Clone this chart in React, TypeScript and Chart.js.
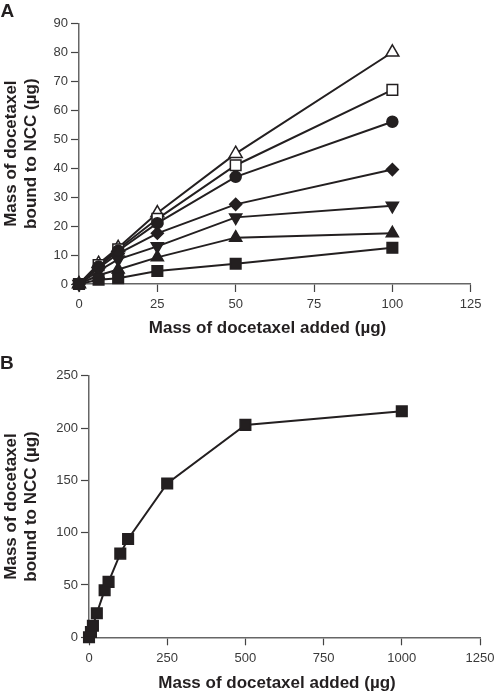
import React, { useEffect, useRef } from "react";
import { Chart, registerables } from "chart.js";

Chart.register(...registerables);

// ---------- Data ----------
const A_X = [0, 6.25, 12.5, 25, 50, 100];
const A_OPEN_TRIANGLE = [0, 7, 12.5, 24.5, 45, 80];
const A_OPEN_SQUARE = [0, 6.5, 12, 22.5, 41, 67];
const A_CIRCLE = [0, 6, 11.5, 21, 37, 56];
const A_DIAMOND = [0, 5.5, 10.5, 17.5, 27.5, 39.5];
const A_DOWN_TRIANGLE = [0, 4.5, 8.5, 13, 23, 27];
const A_UP_TRIANGLE = [0, 3, 5, 9.2, 16, 17.5];
const A_SQUARE = [0, 1.5, 2, 4.5, 7, 12.5];

const B_X = [0, 6.25, 12.5, 25, 50, 62.5, 100, 125, 250, 500, 1000];
const B_Y = [0, 5, 11, 23, 45, 53, 80, 94, 147, 203, 216];

const Y_TITLE = ["Mass of docetaxel", "bound to NCC (\u00b5g)"];
const X_TITLE = "Mass of docetaxel added (\u00b5g)";

const FONT = '"Liberation Sans", Arial, Helvetica, sans-serif';
const INK = "#231f20";

const panelText = {
  id: "panelText",
  afterDraw(chart: any, _args: any, opts: any) {
    const ctx = chart.ctx;
    ctx.save();
    ctx.fillStyle = INK;
    ctx.textBaseline = "alphabetic";
    ctx.textAlign = "left";
    ctx.font = `bold 19px ${FONT}`;
    ctx.fillText(opts.letter, opts.letterX, opts.letterY);
    ctx.textAlign = "center";
    ctx.font = `bold 17px ${FONT}`;
    ctx.fillText(opts.xTitle, opts.xTitleX, opts.xTitleY);
    ctx.restore();
  },
};

function pts(xs: number[], ys: number[]) {
  return xs.map((x, i) => ({ x, y: ys[i] }));
}

function ds(ys: number[], xs: number[], style: string, fill: string, radius: number, rotation = 0) {
  return {
    data: pts(xs, ys),
    borderColor: INK,
    borderWidth: 2,
    pointStyle: style,
    pointRadius: radius,
    pointRotation: rotation,
    pointBackgroundColor: fill,
    pointBorderColor: INK,
    pointBorderWidth: 1.5,
    tension: 0,
    clip: false as any,
  };
}

function axisCommon(min: number, max: number, step: number) {
  return {
    type: "linear" as const,
    min,
    max,
    ticks: {
      stepSize: step,
      color: "#3a3a3a",
      font: { family: FONT, size: 13 },
      callback: (v: any) => String(v),
    },
    grid: {
      drawOnChartArea: false,
      drawTicks: true,
      tickLength: 8,
      tickColor: "#444",
      tickWidth: 1.2,
    },
    border: { display: true, color: "#666", width: 1.5 },
  };
}

function makeOptions(
  yMin: number, yMax: number, yStep: number, xMin: number, xMax: number, xStep: number,
  yWidth: number, xHeight: number, pad: any, textOpts: any
) {
  const x: any = axisCommon(xMin, xMax, xStep);
  x.ticks.padding = 5;
  x.afterFit = (s: any) => {
    s.height = xHeight;
    s.paddingLeft = 0;
    s.paddingRight = 0;
    s.paddingTop = 0;
    s.paddingBottom = 0;
  };
  const y: any = axisCommon(yMin, yMax, yStep);
  y.ticks.padding = 3;
  y.title = {
    display: true,
    text: Y_TITLE,
    color: INK,
    font: { family: FONT, size: 17, weight: "bold", lineHeight: 20 / 17 },
    padding: { top: 1, bottom: 0 },
  };
  y.afterFit = (s: any) => {
    s.width = yWidth;
    s.paddingLeft = 0;
    s.paddingRight = 0;
    s.paddingTop = 0;
    s.paddingBottom = 0;
  };
  return {
    responsive: false,
    animation: false as const,
    layout: { padding: pad },
    plugins: {
      legend: { display: false },
      tooltip: { enabled: false },
      panelText: textOpts,
    },
    scales: { x, y },
  };
}

function ChartCanvas({ config, width, height, top }: any) {
  const ref = useRef<HTMLCanvasElement | null>(null);
  useEffect(() => {
    if (!ref.current) return;
    const chart = new Chart(ref.current, config);
    return () => chart.destroy();
  }, []);
  return (
    <canvas
      ref={ref}
      width={width}
      height={height}
      style={{ position: "absolute", left: 0, top, width, height }}
    />
  );
}

export default function App() {
  // Chart.js paints dataset 0 on top, so the filled squares come first.
  const configA: any = {
    type: "line",
    data: {
      datasets: [
        ds(A_SQUARE, A_X, "rect", INK, 7.5),
        ds(A_UP_TRIANGLE, A_X, "triangle", INK, 7),
        ds(A_DOWN_TRIANGLE, A_X, "triangle", INK, 7, 180),
        ds(A_DIAMOND, A_X, "rectRot", INK, 6),
        ds(A_CIRCLE, A_X, "circle", INK, 5.5),
        ds(A_OPEN_SQUARE, A_X, "rect", "#ffffff", 7.5),
        ds(A_OPEN_TRIANGLE, A_X, "triangle", "#ffffff", 7.5),
      ],
    },
    options: makeOptions(0, 90, 10, 0, 125, 25, 79, 61,
      { top: 23.3, right: 25.3, left: 0, bottom: 0 },
      { letter: "A", letterX: 0.5, letterY: 17, xTitle: X_TITLE, xTitleX: 267.5, xTitleY: 333 }),
    plugins: [panelText],
  };

  const configB: any = {
    type: "line",
    data: {
      datasets: [ds(B_Y, B_X, "rect", INK, 7.5)],
    },
    options: makeOptions(0, 250, 50, 0, 1250, 250, 89, 54.7,
      { top: 30.7, right: 16, left: 0, bottom: 0 },
      { letter: "B", letterX: 0, letterY: 24, xTitle: X_TITLE, xTitleX: 277, xTitleY: 342.5 }),
    plugins: [panelText],
  };

  return (
    <div style={{ position: "absolute", left: 0, top: 0, width: 496, height: 692, background: "#fff" }}>
      <ChartCanvas config={configA} width={496} height={345} top={0} />
      <ChartCanvas config={configB} width={496} height={347} top={345} />
    </div>
  );
}
